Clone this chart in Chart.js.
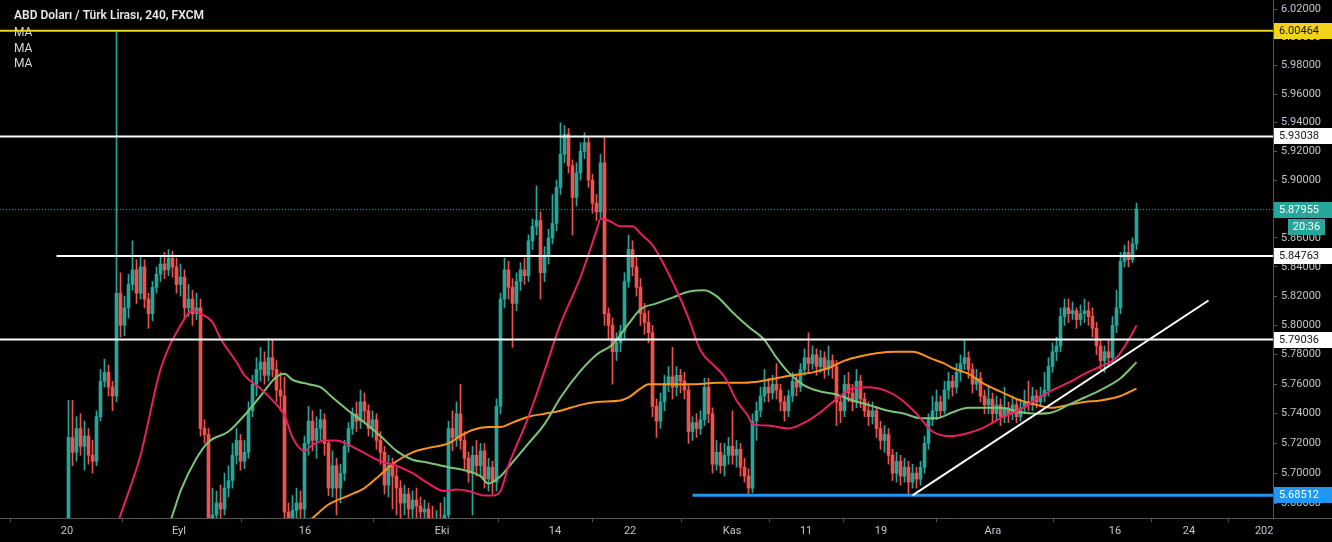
<!DOCTYPE html>
<html><head><meta charset="utf-8">
<script src="https://cdn.jsdelivr.net/npm/chart.js@4.4.0/dist/chart.umd.min.js"></script>
<style>html,body{margin:0;padding:0;background:#000;overflow:hidden}#wrap{width:1332px;height:542px}</style>
</head><body><div id="wrap"><canvas id="c" width="1332" height="542"></canvas></div>
<script>
const chartTitle = 'ABD Doları / Türk Lirası, 240, FXCM';
const indicatorNames = ['MA', 'MA', 'MA'];

const opens = [5.660,5.724,5.714,5.730,5.718,5.725,5.712,5.708,5.738,5.762,5.768,5.758,5.752,5.822,5.800,5.812,5.828,5.838,5.822,5.840,
5.818,5.808,5.826,5.835,5.842,5.838,5.846,5.840,5.828,5.833,5.812,5.818,5.808,5.812,5.730,5.726,5.665,5.672,5.680,5.676,
5.690,5.695,5.712,5.722,5.708,5.714,5.742,5.760,5.770,5.775,5.766,5.778,5.770,5.756,5.752,5.674,5.668,5.675,5.680,5.676,
5.720,5.735,5.722,5.730,5.736,5.720,5.690,5.705,5.690,5.700,5.718,5.730,5.740,5.735,5.748,5.742,5.730,5.736,5.722,5.714,
5.692,5.705,5.698,5.690,5.680,5.686,5.676,5.682,5.678,5.674,5.676,5.668,5.660,5.666,5.662,5.672,5.730,5.724,5.740,5.722,
5.710,5.700,5.712,5.705,5.715,5.696,5.704,5.694,5.745,5.818,5.838,5.826,5.815,5.830,5.838,5.834,5.858,5.868,5.872,5.836,
5.848,5.860,5.870,5.895,5.918,5.932,5.910,5.888,5.905,5.920,5.926,5.900,5.884,5.878,5.912,5.808,5.800,5.782,5.788,5.796,
5.830,5.852,5.840,5.826,5.808,5.802,5.795,5.745,5.735,5.748,5.760,5.765,5.758,5.766,5.762,5.756,5.728,5.734,5.730,5.736,
5.758,5.740,5.706,5.714,5.705,5.712,5.718,5.712,5.716,5.704,5.698,5.690,5.735,5.742,5.752,5.758,5.754,5.760,5.756,5.748,
5.742,5.752,5.762,5.758,5.770,5.778,5.774,5.780,5.772,5.778,5.770,5.776,5.772,5.748,5.742,5.760,5.754,5.748,5.762,5.750,
5.742,5.738,5.742,5.730,5.722,5.726,5.712,5.700,5.708,5.698,5.704,5.694,5.700,5.696,5.704,5.720,5.736,5.742,5.748,5.742,
5.756,5.762,5.758,5.768,5.774,5.778,5.770,5.760,5.764,5.752,5.746,5.750,5.740,5.746,5.738,5.744,5.740,5.746,5.738,5.744,
5.748,5.746,5.752,5.748,5.752,5.756,5.772,5.782,5.786,5.806,5.812,5.808,5.810,5.804,5.808,5.810,5.806,5.798,5.786,5.776,
5.782,5.778,5.800,5.812,5.844,5.850,5.845,5.856];
const highs = [5.749,5.749,5.738,5.740,5.735,5.730,5.722,5.742,5.770,5.777,5.773,5.762,6.004,5.836,5.820,5.835,5.858,5.845,5.848,5.845,
5.822,5.830,5.840,5.848,5.850,5.852,5.851,5.846,5.842,5.838,5.828,5.824,5.822,5.818,5.736,5.730,5.690,5.688,5.692,5.700,
5.705,5.720,5.730,5.726,5.722,5.748,5.766,5.778,5.785,5.782,5.791,5.790,5.776,5.768,5.765,5.680,5.685,5.690,5.688,5.725,
5.745,5.742,5.738,5.743,5.740,5.722,5.715,5.710,5.706,5.722,5.734,5.744,5.748,5.756,5.754,5.746,5.742,5.740,5.728,5.718,
5.712,5.710,5.704,5.695,5.692,5.690,5.688,5.690,5.684,5.682,5.680,5.678,5.675,5.680,5.684,5.735,5.742,5.748,5.760,5.728,
5.714,5.718,5.722,5.720,5.720,5.710,5.708,5.750,5.822,5.846,5.844,5.832,5.836,5.843,5.846,5.862,5.873,5.896,5.878,5.854,
5.866,5.890,5.900,5.940,5.938,5.936,5.914,5.912,5.926,5.933,5.930,5.904,5.890,5.918,5.930,5.812,5.805,5.795,5.800,5.836,
5.862,5.858,5.848,5.832,5.815,5.810,5.800,5.750,5.754,5.766,5.772,5.785,5.772,5.770,5.768,5.760,5.738,5.740,5.742,5.764,
5.764,5.744,5.722,5.720,5.720,5.724,5.742,5.722,5.720,5.710,5.703,5.740,5.748,5.758,5.770,5.764,5.766,5.774,5.760,5.752,
5.756,5.768,5.766,5.774,5.784,5.795,5.786,5.784,5.783,5.782,5.786,5.780,5.776,5.752,5.766,5.768,5.760,5.770,5.766,5.754,
5.748,5.748,5.745,5.735,5.732,5.730,5.716,5.714,5.712,5.710,5.708,5.706,5.704,5.708,5.725,5.740,5.752,5.756,5.752,5.762,
5.768,5.766,5.774,5.780,5.790,5.782,5.774,5.770,5.768,5.756,5.758,5.754,5.752,5.750,5.758,5.748,5.752,5.750,5.750,5.756,
5.762,5.758,5.756,5.758,5.768,5.778,5.788,5.792,5.812,5.818,5.818,5.816,5.812,5.814,5.818,5.816,5.812,5.802,5.790,5.786,
5.790,5.806,5.824,5.850,5.855,5.858,5.860,5.884];
const lows = [5.655,5.705,5.708,5.712,5.702,5.706,5.700,5.705,5.735,5.758,5.752,5.742,5.748,5.792,5.793,5.805,5.824,5.815,5.818,5.812,
5.798,5.803,5.822,5.830,5.832,5.834,5.833,5.822,5.820,5.805,5.806,5.800,5.804,5.725,5.720,5.660,5.655,5.665,5.668,5.672,
5.684,5.690,5.706,5.702,5.703,5.710,5.738,5.752,5.762,5.760,5.762,5.765,5.748,5.742,5.668,5.655,5.660,5.668,5.665,5.670,
5.712,5.715,5.710,5.722,5.712,5.685,5.684,5.672,5.680,5.695,5.714,5.726,5.728,5.730,5.735,5.725,5.724,5.716,5.706,5.686,
5.684,5.676,5.672,5.670,5.672,5.668,5.670,5.665,5.662,5.660,5.655,5.650,5.650,5.652,5.655,5.668,5.715,5.718,5.716,5.703,
5.694,5.672,5.698,5.698,5.690,5.688,5.686,5.688,5.740,5.812,5.818,5.785,5.810,5.824,5.828,5.830,5.852,5.862,5.818,5.830,
5.842,5.856,5.865,5.890,5.912,5.905,5.862,5.882,5.900,5.915,5.895,5.877,5.872,5.874,5.800,5.790,5.760,5.776,5.782,5.790,
5.826,5.834,5.820,5.800,5.794,5.788,5.738,5.724,5.730,5.742,5.755,5.750,5.752,5.754,5.750,5.720,5.722,5.724,5.726,5.732,
5.734,5.700,5.702,5.700,5.698,5.706,5.706,5.704,5.698,5.694,5.685,5.687,5.722,5.738,5.748,5.748,5.750,5.750,5.742,5.735,
5.738,5.748,5.752,5.755,5.766,5.768,5.770,5.766,5.768,5.764,5.766,5.764,5.732,5.734,5.738,5.748,5.742,5.744,5.744,5.738,
5.732,5.733,5.724,5.716,5.714,5.706,5.695,5.694,5.692,5.694,5.686,5.690,5.690,5.692,5.700,5.716,5.732,5.736,5.738,5.740,
5.750,5.752,5.754,5.762,5.770,5.764,5.754,5.756,5.748,5.740,5.740,5.734,5.736,5.732,5.734,5.734,5.736,5.734,5.735,5.740,
5.742,5.742,5.744,5.745,5.748,5.752,5.768,5.776,5.782,5.800,5.802,5.804,5.798,5.800,5.802,5.800,5.792,5.780,5.770,5.768,
5.772,5.775,5.795,5.808,5.840,5.840,5.843,5.852];
const closes = [5.724,5.714,5.730,5.718,5.725,5.712,5.708,5.738,5.762,5.768,5.758,5.752,5.822,5.800,5.812,5.828,5.838,5.822,5.840,5.818,
5.808,5.826,5.835,5.842,5.838,5.846,5.840,5.828,5.833,5.812,5.818,5.808,5.812,5.730,5.726,5.665,5.672,5.680,5.676,5.690,
5.695,5.712,5.722,5.708,5.714,5.742,5.760,5.770,5.775,5.766,5.778,5.770,5.756,5.752,5.674,5.668,5.675,5.680,5.676,5.720,
5.735,5.722,5.730,5.736,5.720,5.690,5.705,5.690,5.700,5.718,5.730,5.740,5.735,5.748,5.742,5.730,5.736,5.722,5.714,5.692,
5.705,5.698,5.690,5.680,5.686,5.676,5.682,5.678,5.674,5.676,5.668,5.660,5.666,5.662,5.672,5.730,5.724,5.740,5.722,5.710,
5.700,5.712,5.705,5.715,5.696,5.704,5.694,5.745,5.818,5.838,5.826,5.815,5.830,5.838,5.834,5.858,5.868,5.872,5.836,5.848,
5.860,5.870,5.895,5.918,5.932,5.910,5.888,5.905,5.920,5.926,5.900,5.884,5.878,5.912,5.808,5.800,5.782,5.788,5.796,5.830,
5.852,5.840,5.826,5.808,5.802,5.795,5.745,5.735,5.748,5.760,5.765,5.758,5.766,5.762,5.756,5.728,5.734,5.730,5.736,5.758,
5.740,5.706,5.714,5.705,5.712,5.718,5.712,5.716,5.704,5.698,5.690,5.735,5.742,5.752,5.758,5.754,5.760,5.756,5.748,5.742,
5.752,5.762,5.758,5.770,5.778,5.774,5.780,5.772,5.778,5.770,5.776,5.772,5.748,5.742,5.760,5.754,5.748,5.762,5.750,5.742,
5.738,5.742,5.730,5.722,5.726,5.712,5.700,5.708,5.698,5.704,5.694,5.700,5.696,5.704,5.720,5.736,5.742,5.748,5.742,5.756,
5.762,5.758,5.768,5.774,5.778,5.770,5.760,5.764,5.752,5.746,5.750,5.740,5.746,5.738,5.744,5.740,5.746,5.738,5.744,5.748,
5.746,5.752,5.748,5.752,5.756,5.772,5.782,5.786,5.806,5.812,5.808,5.810,5.804,5.808,5.810,5.806,5.798,5.786,5.776,5.782,
5.778,5.800,5.812,5.844,5.850,5.845,5.856,5.880];

// moving averages (bar index, value)
const maPinkIdx = [12,13,18,23,28,31,33,36,38,42,44,48,51,54,56,59,61,64,67,70,75,78,82,86,90,94,97,100,104,106,108,110,115,119,123,128,132,133,135,138,141,143,146,148,152,155,158,162,164,167,170,171,175,180,184,188,192,196,200,204,208,212,216,221,225,229,233,238,242,246,250,254,258,262,265,267];
const maPinkVal = [5.664,5.672,5.712,5.770,5.800,5.810,5.808,5.802,5.791,5.775,5.766,5.757,5.749,5.739,5.724,5.715,5.719,5.722,5.722,5.719,5.712,5.708,5.705,5.700,5.693,5.688,5.689,5.688,5.685,5.685,5.688,5.705,5.738,5.769,5.801,5.833,5.865,5.873,5.872,5.868,5.868,5.863,5.855,5.846,5.824,5.805,5.783,5.771,5.765,5.749,5.738,5.733,5.732,5.730,5.734,5.741,5.750,5.757,5.758,5.756,5.750,5.740,5.728,5.725,5.727,5.731,5.737,5.743,5.750,5.756,5.761,5.767,5.772,5.778,5.790,5.800];
const maGreenIdx = [25,26,28,32,35,40,44,48,52,54,56,60,63,66,70,74,78,82,86,90,95,99,103,105,108,110,115,119,123,128,132,136,140,143,147,151,155,159,162,166,170,174,177,180,184,188,192,196,200,205,209,213,217,221,225,229,233,238,242,246,250,254,258,263,267];
const maGreenVal = [5.665,5.672,5.688,5.710,5.721,5.728,5.739,5.752,5.765,5.767,5.763,5.760,5.758,5.751,5.742,5.734,5.725,5.715,5.709,5.707,5.704,5.702,5.698,5.693,5.698,5.704,5.720,5.733,5.751,5.769,5.780,5.787,5.801,5.811,5.815,5.819,5.823,5.824,5.820,5.809,5.799,5.790,5.778,5.768,5.759,5.755,5.753,5.749,5.746,5.742,5.740,5.737,5.737,5.741,5.744,5.744,5.744,5.741,5.740,5.741,5.746,5.751,5.756,5.764,5.775];
const maOrangeIdx = [60,61,65,70,74,78,82,86,90,95,98,101,105,108,111,115,119,123,128,132,138,140,143,145,148,153,157,162,169,173,177,181,186,190,194,198,202,207,211,216,219,221,225,229,233,238,242,246,250,254,258,263,267];
const maOrangeVal = [5.668,5.670,5.679,5.685,5.690,5.699,5.708,5.714,5.717,5.720,5.725,5.729,5.731,5.731,5.734,5.738,5.740,5.742,5.746,5.748,5.749,5.751,5.757,5.760,5.760,5.760,5.760,5.761,5.761,5.762,5.764,5.766,5.768,5.771,5.776,5.779,5.781,5.782,5.782,5.777,5.774,5.771,5.767,5.760,5.755,5.749,5.746,5.744,5.746,5.748,5.749,5.752,5.757];

// drawn levels and trend line (price, first bar index)
const levelPrices = [6.00464, 5.93038, 5.84763, 5.79036, 5.68512];
const levelStartIdx = [-17.125, -17.125, -3, -17.125, 156];
const trendIdx = [211, 285];
const trendVal = [5.68512, 5.817];
const lastPrice = 5.87955;
const countdown = '20:36';

// axis ticks
const yTicks = [5.68,5.70,5.72,5.74,5.76,5.78,5.80,5.82,5.84,5.86,5.88,5.90,5.92,5.94,5.96,5.98,6.00,6.02];
const xTickIdx = [-0.4, 27.6, 59.1, 93.4, 121.6, 140.4, 165.9, 184.4, 203.1, 231.1, 261.6, 280.1, 299.7];
const xTickLabels = ['20','Eyl','16','Eki','14','22','Kas','11','19','Ara','16','24','2020'];

const X_MIN = -17.125, X_MAX = 301.125, Y_MIN = 5.6734, Y_MAX = 6.0264;

const UP = '#26a69a', DN = '#ef5350';
const candleCol = closes.map((c, i) => c >= opens[i] ? UP : DN);
const wickData = closes.map((c, i) => ({x: i, y: [lows[i], highs[i]]}));
const bodyData = closes.map((c, i) => ({x: i, y: [opens[i], c]}));
const pts = (ix, vs) => ix.map((x, k) => ({x, y: vs[k]}));

const levelStyle = [
  {color: '#f2d21b', w: 2, bg: '#f2d21b', fg: '#131313'},
  {color: '#ffffff', w: 2, bg: '#ffffff', fg: '#131313'},
  {color: '#ffffff', w: 2, bg: '#ffffff', fg: '#131313'},
  {color: '#ffffff', w: 2, bg: '#ffffff', fg: '#131313'},
  {color: '#2196f3', w: 3, bg: '#2196f3', fg: '#ffffff'}
];

const lineDs = (data, color, width, order, extra) => Object.assign({
  type: 'line', data, borderColor: color, borderWidth: width, pointRadius: 0,
  fill: false, order, cubicInterpolationMode: 'monotone'
}, extra || {});

const datasets = [
  {type: 'bar', data: wickData, backgroundColor: candleCol, barThickness: 1, grouped: false, order: 20, borderWidth: 0},
  {type: 'bar', data: bodyData, backgroundColor: candleCol, barThickness: 3, grouped: false, minBarLength: 1, order: 19, borderWidth: 0},
  lineDs(pts(maOrangeIdx, maOrangeVal), '#f7931e', 2, 12),
  lineDs(pts(maGreenIdx, maGreenVal), '#7cc576', 2, 11),
  lineDs(pts(maPinkIdx, maPinkVal), '#e91e63', 2, 10),
  lineDs([{x: X_MIN, y: lastPrice}, {x: X_MAX, y: lastPrice}], UP, 1, 6, {borderDash: [1, 2]})
];
levelPrices.forEach((p, k) => {
  datasets.push(lineDs([{x: levelStartIdx[k], y: p}, {x: X_MAX, y: p}], levelStyle[k].color, levelStyle[k].w, 3));
});
datasets.push(lineDs(pts(trendIdx, trendVal), '#ffffff', 2, 2));

const overlay = {
  id: 'overlay',
  beforeDraw(chart) {
    const {ctx, width, height} = chart;
    ctx.save(); ctx.fillStyle = '#000'; ctx.fillRect(0, 0, width, height); ctx.restore();
  },
  beforeDatasetsDraw(chart) {
    const {ctx} = chart;
    ctx.save();
    ctx.textAlign = 'left'; ctx.textBaseline = 'middle';
    ctx.font = '600 12px Roboto, "Liberation Sans", sans-serif';
    ctx.fillStyle = '#e8e8e8';
    ctx.fillText(chartTitle, 14, 16);
    ctx.font = '12px Roboto, "Liberation Sans", sans-serif';
    ctx.fillStyle = '#d8d8d8';
    indicatorNames.forEach((t, k) => ctx.fillText(t, 14, 33 + k * 15.5));
    ctx.restore();
  },
  afterDraw(chart) {
    const {ctx, chartArea: a, width, height} = chart;
    const ys = chart.scales.y;
    ctx.save();
    ctx.fillStyle = '#000';
    ctx.fillRect(a.right + 1, a.bottom + 1, width - a.right, height - a.bottom);
    ctx.strokeStyle = '#555'; ctx.lineWidth = 1;
    ctx.beginPath(); ctx.moveTo(a.right, a.bottom + 0.5); ctx.lineTo(width, a.bottom + 0.5); ctx.stroke();
    ctx.font = '11px Roboto, "Liberation Sans", sans-serif';
    ctx.textBaseline = 'middle'; ctx.textAlign = 'left';
    const box = (v, bg, fg, text) => {
      const py = Math.round(ys.getPixelForValue(v));
      ctx.fillStyle = bg; ctx.fillRect(a.right + 1, py - 8, width - a.right - 1, 16);
      ctx.fillStyle = fg; ctx.fillText(text, a.right + 6, py + 0.5);
      return py;
    };
    levelPrices.forEach((p, k) => box(p, levelStyle[k].bg, levelStyle[k].fg, p.toFixed(5)));
    const py = box(lastPrice, UP, '#ffffff', lastPrice.toFixed(5));
    ctx.fillStyle = UP; ctx.fillRect(a.right + 15, py + 9, 37, 16);
    ctx.fillStyle = '#ffffff'; ctx.textAlign = 'center';
    ctx.fillText(countdown, a.right + 33.5, py + 17.5);
    ctx.restore();
  }
};

new Chart(document.getElementById('c'), {
  type: 'bar',
  data: {datasets},
  options: {
    responsive: false, animation: false, events: [],
    layout: {padding: 0},
    plugins: {legend: {display: false}, tooltip: {enabled: false}},
    scales: {
      x: {
        type: 'linear', min: X_MIN, max: X_MAX, offset: false,
        grid: {drawOnChartArea: false, tickLength: 4, color: '#555'},
        border: {color: '#555'},
        ticks: {color: '#c3c6ce', font: {size: 11, family: 'Roboto'}, maxRotation: 0, autoSkip: false, padding: 3,
          callback: (v, i) => xTickLabels[i]},
        afterBuildTicks: s => { s.ticks = xTickIdx.map(v => ({value: v})); },
        afterFit: s => { s.height = 24; s.paddingLeft = 0; s.paddingRight = 0; }
      },
      y: {
        type: 'logarithmic', position: 'right', min: Y_MIN, max: Y_MAX,
        grid: {drawOnChartArea: false, tickLength: 4, color: '#555'},
        border: {color: '#555'},
        ticks: {color: '#c3c6ce', font: {size: 11, family: 'Roboto'}, padding: 4, autoSkip: false,
          callback: v => Number(v).toFixed(5)},
        afterBuildTicks: s => { s.ticks = yTicks.map(v => ({value: v})); },
        afterFit: s => { s.width = 59; s.paddingTop = 0; s.paddingBottom = 0; }
      }
    }
  },
  plugins: [overlay]
});
</script>
</body></html>
